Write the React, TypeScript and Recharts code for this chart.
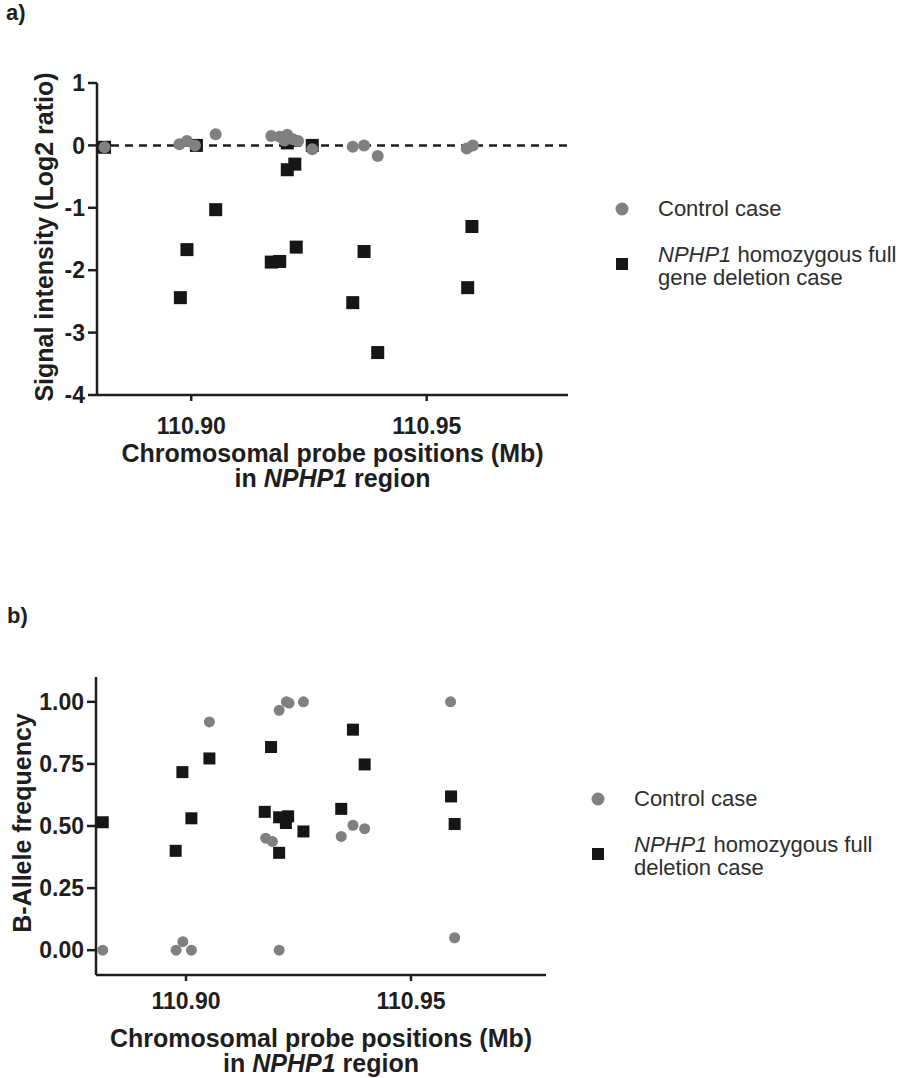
import React from "react";
import {
  ScatterChart,
  Scatter,
  XAxis,
  YAxis,
  ReferenceLine,
} from "recharts";

const FONT = "'Liberation Sans', Arial, Helvetica, sans-serif";
const CONTROL_COLOR = "#808080";
const DELETION_COLOR = "#161616";
const AXIS_COLOR = "#1e1e1e";

// shared x ticks (Mb)
const POS_TICKS = [110.9, 110.95];

// a) signal intensity, log2 ratio
const LOG2_TICKS = [-4, -3, -2, -1, 0, 1];
const A_CONTROL_POS = [
  110.8816, 110.8975, 110.8991, 110.9008, 110.9052, 110.917, 110.9188, 110.9198,
  110.9204, 110.9216, 110.9227, 110.9257, 110.9343, 110.9367, 110.9396, 110.9585,
  110.9598,
];
const A_CONTROL_LOG2 = [
  -0.03, 0.02, 0.07, 0.0, 0.18, 0.15, 0.14, 0.08, 0.17, 0.1, 0.07, -0.06, -0.02, 0.0,
  -0.17, -0.05, 0.0,
];
const A_DELETION_POS = [
  110.8816, 110.8977, 110.8991, 110.9011, 110.9052, 110.917, 110.9188, 110.9204,
  110.9204, 110.922, 110.9223, 110.9257, 110.9343, 110.9367, 110.9396, 110.9587,
  110.9596,
];
const A_DELETION_LOG2 = [
  -0.03, -2.44, -1.67, 0.0, -1.03, -1.87, -1.86, 0.04, -0.39, -0.3, -1.63, 0.0, -2.52,
  -1.7, -3.32, -2.28, -1.3,
];

// b) B-allele frequency
const BAF_TICKS = [0, 0.25, 0.5, 0.75, 1];
const B_CONTROL_POS = [
  110.8815, 110.8978, 110.8993, 110.9012, 110.9052, 110.9177, 110.9192, 110.9207,
  110.9223, 110.9229, 110.9261, 110.9207, 110.9345, 110.9371, 110.9397, 110.9588,
  110.9597,
];
const B_CONTROL_BAF = [
  0, 0, 0.034, 0, 0.919, 0.451, 0.438, 0.966, 1.0, 0.995, 1.0, 0, 0.458, 0.503, 0.489,
  1.0, 0.05,
];
const B_DELETION_POS = [
  110.8815, 110.8977, 110.8992, 110.9012, 110.9052, 110.9175, 110.9189, 110.9207,
  110.9207, 110.9227, 110.9222, 110.9261, 110.9345, 110.9371, 110.9397, 110.9589,
  110.9597,
];
const B_DELETION_BAF = [
  0.515, 0.4, 0.717, 0.531, 0.772, 0.557, 0.818, 0.392, 0.535, 0.539, 0.512, 0.478,
  0.569, 0.888, 0.748, 0.619, 0.508,
];

const toPoints = (xs: number[], ys: number[]) => xs.map((x, i) => ({ x, y: ys[i] }));

const Dot = (size: number) => (p: any) => (
  <circle cx={p.cx} cy={p.cy} r={size / 2} fill={CONTROL_COLOR} />
);
const Square = (size: number) => (p: any) => (
  <rect x={p.cx - size / 2} y={p.cy - size / 2} width={size} height={size} fill={DELETION_COLOR} />
);

const tickStyle = { fontSize: 23, fontWeight: 700, fill: "#1e1e1e", fontFamily: FONT };

const YTitle = (text: string, dx: number, dy: number) => (props: any) => {
  const vb = props.viewBox;
  const x = vb.x + dx;
  const y = vb.y + vb.height / 2 + dy;
  return (
    <text
      x={x}
      y={y}
      transform={`rotate(-90 ${x} ${y})`}
      textAnchor="middle"
      dominantBaseline="central"
      fontFamily={FONT}
      fontSize={25}
      fontWeight={700}
      fill="#1e1e1e"
    >
      {text}
    </text>
  );
};

const XTitle = (line1Y: number, gap: number) => (props: any) => {
  const vb = props.viewBox;
  const x = vb.x + vb.width / 2;
  return (
    <text
      x={x}
      y={vb.y + line1Y}
      textAnchor="middle"
      fontFamily={FONT}
      fontSize={25}
      fontWeight={700}
      fill="#1e1e1e"
    >
      <tspan x={x}>Chromosomal probe positions (Mb)</tspan>
      <tspan x={x} dy={gap}>
        in <tspan fontStyle="italic">NPHP1</tspan> region
      </tspan>
    </text>
  );
};

function Legend({
  left,
  top,
  second,
}: {
  left: number;
  top: number;
  second: [string, string];
}) {
  const text: React.CSSProperties = {
    position: "absolute",
    fontFamily: FONT,
    fontSize: 22,
    color: "#2e2e2e",
    lineHeight: "23px",
    whiteSpace: "nowrap",
  };
  return (
    <>
      <svg style={{ position: "absolute", left: left - 8, top: top - 8 }} width={16} height={16}>
        <circle cx={8} cy={8} r={6.5} fill={CONTROL_COLOR} />
      </svg>
      <div style={{ ...text, left: left + 36, top: top - 12 }}>Control case</div>
      <svg style={{ position: "absolute", left: left - 8, top: top + 47 }} width={16} height={16}>
        <rect x={2} y={2} width={12} height={12} fill={DELETION_COLOR} />
      </svg>
      <div style={{ ...text, left: left + 36, top: top + 34 }}>
        <i>NPHP1</i> homozygous full
        <br />
        {second[1]}
      </div>
    </>
  );
}

const panelLabel: React.CSSProperties = {
  position: "absolute",
  fontFamily: FONT,
  fontSize: 22,
  fontWeight: 700,
  color: "#1e1e1e",
};

export default function App() {
  const aControl = toPoints(A_CONTROL_POS, A_CONTROL_LOG2);
  const aDeletion = toPoints(A_DELETION_POS, A_DELETION_LOG2);
  const bControl = toPoints(B_CONTROL_POS, B_CONTROL_BAF);
  const bDeletion = toPoints(B_DELETION_POS, B_DELETION_BAF);

  return (
    <div
      style={{
        position: "absolute",
        left: 0,
        top: 0,
        width: 900,
        height: 1078,
        background: "#fff",
        overflow: "hidden",
      }}
    >
      <div style={{ ...panelLabel, left: 6, top: 0 }}>a)</div>

      <div style={{ position: "absolute", left: 0, top: 0 }}>
        <ScatterChart width={600} height={500} margin={{ top: 83, right: 32, bottom: 5, left: 0 }}>
          <XAxis
            type="number"
            dataKey="x"
            domain={[110.88, 110.98]}
            ticks={POS_TICKS}
            tickFormatter={(v: number) => v.toFixed(2)}
            allowDataOverflow
            height={100}
            stroke={AXIS_COLOR}
            strokeWidth={2.5}
            tickSize={6}
            tickMargin={17}
            tick={tickStyle}
            label={{ content: XTitle(67, 25) }}
          />
          <YAxis
            type="number"
            dataKey="y"
            domain={[-4, 1]}
            ticks={LOG2_TICKS}
            allowDataOverflow
            width={97}
            stroke={AXIS_COLOR}
            strokeWidth={2.5}
            tickSize={9}
            tickMargin={3}
            tick={tickStyle}
            label={{ content: YTitle("Signal intensity (Log2 ratio)", 44, -2) }}
          />
          <ReferenceLine y={0} stroke={AXIS_COLOR} strokeWidth={2.5} strokeDasharray="8 6" />
          <Scatter
            name="NPHP1 homozygous full gene deletion case"
            data={aDeletion}
            shape={Square(13)}
            isAnimationActive={false}
          />
          <Scatter
            name="Control case"
            data={aControl}
            shape={Dot(12)}
            isAnimationActive={false}
          />
        </ScatterChart>
      </div>
      <Legend left={622} top={209} second={["NPHP1 homozygous full", "gene deletion case"]} />

      <div style={{ ...panelLabel, left: 7, top: 603 }}>b)</div>

      <div style={{ position: "absolute", left: 0, top: 560 }}>
        <ScatterChart width={600} height={518} margin={{ top: 117, right: 54, bottom: 5, left: 0 }}>
          <XAxis
            type="number"
            dataKey="x"
            domain={[110.88, 110.98]}
            ticks={POS_TICKS}
            tickFormatter={(v: number) => v.toFixed(2)}
            allowDataOverflow
            height={98}
            stroke={AXIS_COLOR}
            strokeWidth={2.5}
            tickSize={6}
            tickMargin={12}
            tick={tickStyle}
            label={{ content: XTitle(72, 25) }}
          />
          <YAxis
            type="number"
            dataKey="y"
            domain={[-0.1, 1.1]}
            ticks={BAF_TICKS}
            tickFormatter={(v: number) => v.toFixed(2)}
            allowDataOverflow
            width={96}
            stroke={AXIS_COLOR}
            strokeWidth={2.5}
            tickSize={9}
            tickMargin={3}
            tick={tickStyle}
            label={{ content: YTitle("B-Allele frequency", 22, -3) }}
          />
          <Scatter
            name="NPHP1 homozygous full deletion case"
            data={bDeletion}
            shape={Square(12)}
            isAnimationActive={false}
          />
          <Scatter
            name="Control case"
            data={bControl}
            shape={Dot(11)}
            isAnimationActive={false}
          />
        </ScatterChart>
      </div>
      <Legend left={598} top={799} second={["NPHP1 homozygous full", "deletion case"]} />
    </div>
  );
}
